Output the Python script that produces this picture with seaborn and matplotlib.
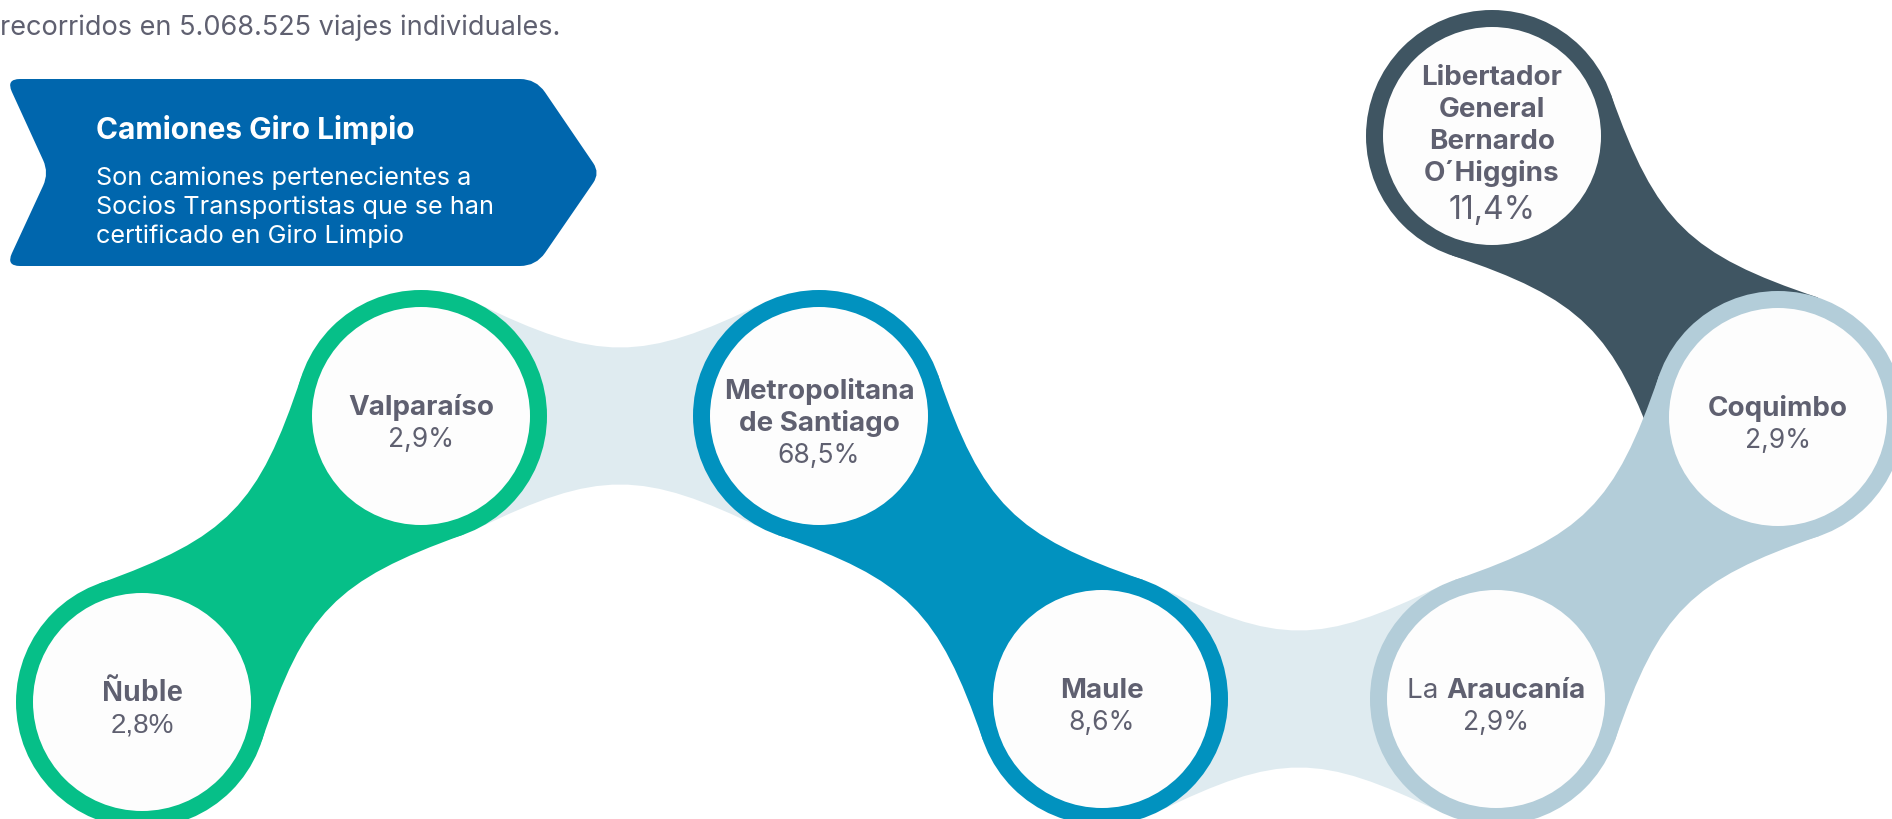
import numpy as np
import matplotlib
matplotlib.use("Agg")
import matplotlib.pyplot as plt
from matplotlib.path import Path
from matplotlib.patches import PathPatch
import seaborn as sns

# --- data ---
region_lines = [
    ['Ñuble'],
    ['Valparaíso'],
    ['Metropolitana', 'de Santiago'],
    ['Maule'],
    ['La Araucanía'],
    ['Coquimbo'],
    ['Libertador', 'General', 'Bernardo', 'O´Higgins'],
]
shares = [2.8, 2.9, 68.5, 8.6, 2.9, 2.9, 11.4]
intro_text = 'recorridos en 5.068.525 viajes individuales.'
banner_title = 'Camiones Giro Limpio'
banner_body = ['Son camiones pertenecientes a',
               'Socios Transportistas que se han',
               'certificado en Giro Limpio']

# --- layout (pixels, y down) ---
W, H = 1892, 820
centers = [(142, 703), (421, 417), (819, 417), (1102, 700),
           (1496, 700), (1778, 418), (1492, 137)]
R_OUT, R_IN = 126, 109

GREEN = '#06BF88'
BLUE = '#0192BF'
SLATE = '#3F5562'
PALE = '#B3CDD9'
LIGHT = '#DFEBF0'
TEXT = '#5F6070'
BANNER = '#0066AD'

ring_colors = [GREEN, GREEN, BLUE, BLUE, PALE, PALE, SLATE]
# drawing order matters: later links sit on top
links = [(1, 2, LIGHT), (3, 4, LIGHT), (6, 5, SLATE), (4, 5, PALE),
         (0, 1, GREEN), (2, 3, BLUE)]

sns.set_theme(style='white')
plt.rcParams['font.family'] = ['Inter', 'DejaVu Sans']

fig = plt.figure(figsize=(W / 100, H / 100), dpi=100)
ax = fig.add_axes([0, 0, 1, 1])


def neck(c1, c2, r=R_OUT, phi=np.radians(64), k=136):
    c1, c2 = np.array(c1, float), np.array(c2, float)
    u = (c2 - c1) / np.linalg.norm(c2 - c1)
    n = np.array([-u[1], u[0]])
    s, c = np.sin(phi), np.cos(phi)
    p1 = c1 + r * (c * u + s * n)
    p2 = c1 + r * (c * u - s * n)
    p3 = c2 + r * (-c * u + s * n)
    p4 = c2 + r * (-c * u - s * n)
    h1 = p1 + k * (s * u - c * n)
    h2 = p2 + k * (s * u + c * n)
    h3 = p3 + k * (-s * u - c * n)
    h4 = p4 + k * (-s * u + c * n)
    verts = [p1, h1, h3, p3, c2, p4, h4, h2, p2, c1, p1]
    codes = [Path.MOVETO, Path.CURVE4, Path.CURVE4, Path.CURVE4, Path.LINETO,
             Path.LINETO, Path.CURVE4, Path.CURVE4, Path.CURVE4, Path.LINETO,
             Path.CLOSEPOLY]
    return Path(verts, codes)


def rounded_path(pts, radii):
    pts = np.asarray(pts, float)
    n = len(pts)
    verts, codes = [], []
    for i in range(n):
        p, prev, nxt = pts[i], pts[i - 1], pts[(i + 1) % n]
        r = radii[i]
        a = p + (prev - p) / np.linalg.norm(prev - p) * r
        b = p + (nxt - p) / np.linalg.norm(nxt - p) * r
        verts += [a, p, b]
        codes += [Path.LINETO if i else Path.MOVETO, Path.CURVE3, Path.CURVE3]
    verts.append(verts[0])
    codes.append(Path.CLOSEPOLY)
    return Path(verts, codes)


# connectors between regions
for z, (i, j, col) in enumerate(links):
    ax.add_patch(PathPatch(neck(centers[i], centers[j]), facecolor=col,
                           edgecolor='none', zorder=1 + z * 0.01))

# rings through seaborn scatter (marker size in points)
px2pt = 72 / 100
r_mid = (R_OUT + R_IN) / 2 * px2pt
lw = (R_OUT - R_IN) * px2pt
sns.scatterplot(x=[c[0] for c in centers], y=[c[1] for c in centers],
                s=(2 * r_mid) ** 2, color='#FDFDFD', edgecolor=ring_colors,
                linewidth=lw, legend=False, ax=ax, zorder=3)

ax.set_xlim(0, W)
ax.set_ylim(H, 0)
ax.set_axis_off()

# labels
renderer = fig.canvas.get_renderer()
for (cx, cy), lines, v in zip(centers, region_lines, shares):
    nuble = lines[0] == 'Ñuble'
    fam = ['Liberation Sans'] if nuble else ['Inter', 'DejaVu Sans']
    fs_name = 21 if nuble else 20
    fs_pct = 23 if len(lines) == 4 else (20 if nuble else 19)
    extra = 4 if len(lines) == 4 else 0
    n = len(lines)
    span = 32 * n + extra
    y0 = cy + 5 - span / 2
    for i, line in enumerate(lines):
        yb = y0 + 32 * i + 9
        if line.startswith('La '):
            t1 = ax.text(0, yb, 'La ', fontsize=fs_name, color=TEXT, family=fam,
                         va='baseline', ha='left', zorder=5)
            t2 = ax.text(0, yb, line[3:], fontsize=fs_name, color=TEXT,
                         family=fam, fontweight='bold', va='baseline',
                         ha='left', zorder=5)
            w1 = t1.get_window_extent(renderer).width
            w2 = t2.get_window_extent(renderer).width
            x0 = cx - (w1 + w2) / 2
            t1.set_x(x0)
            t2.set_x(x0 + w1)
        else:
            ax.text(cx, yb, line, fontsize=fs_name, color=TEXT, family=fam,
                    fontweight='bold', ha='center', va='baseline', zorder=5)
    pct = f'{v:.1f}%'.replace('.', ',')
    ax.text(cx, y0 + 32 * n + extra + (11 if len(lines) == 4 else 9), pct,
            fontsize=fs_pct, color=TEXT, family=fam,
            ha='center', va='baseline', zorder=5)

# intro line
ax.text(0, 35, intro_text, fontsize=19.5, color=TEXT, ha='left', va='baseline')

# banner
banner_pts = [(6, 80), (536, 80), (600, 174), (536, 267), (6, 267), (49, 174)]
ax.add_patch(PathPatch(rounded_path(banner_pts, [14, 16, 12, 16, 14, 14]),
                       facecolor=BANNER, edgecolor='none', zorder=2))
ax.text(96, 139, banner_title, fontsize=21.5, fontweight='bold', color='white',
        ha='left', va='baseline', zorder=5)
for i, line in enumerate(banner_body):
    ax.text(96, 185 + 29 * i, line, fontsize=18.2, color='white',
            ha='left', va='baseline', zorder=5)

fig.savefig('out.png', dpi=100, facecolor='white')
